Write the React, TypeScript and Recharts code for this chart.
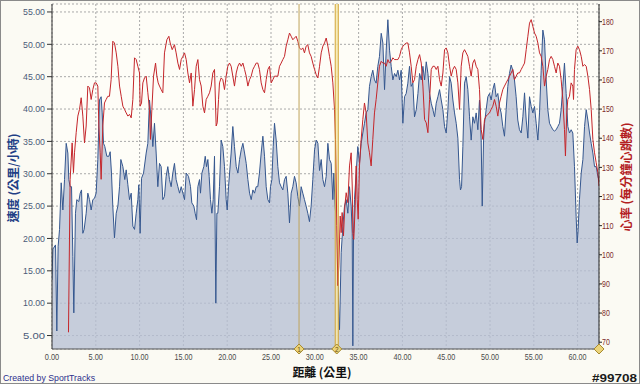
import React from 'react';
import {
  ComposedChart,
  Area,
  Line,
  XAxis,
  YAxis,
  CartesianGrid,
  ReferenceLine,
  ReferenceArea,
  ReferenceDot,
} from 'recharts';

// ---- data (distance in km) ----
const speedKm = [
  0, 0.1, 0.17, 0.4, 0.55, 0.7, 0.86, 1.05, 1.24, 1.43, 1.62, 1.81, 1.92, 2.07, 2.23, 2.38, 2.49, 2.68, 2.83, 3.06,
  3.22, 3.37, 3.52, 3.67, 3.9, 4.09, 4.28, 4.47, 4.66, 4.85, 5.04, 5.23, 5.42, 5.61, 5.73, 5.88, 6.03, 6.26, 6.49, 6.64,
  6.79, 6.94, 7.13, 7.33, 7.52, 7.71, 7.86, 8.09, 8.31, 8.47, 8.66, 8.85, 9.04, 9.23, 9.42, 9.61, 9.8, 9.91, 10.06, 10.22,
  10.45, 10.75, 10.94, 11.13, 11.32, 11.51, 11.7, 11.89, 12.08, 12.27, 12.46, 12.65, 12.84, 13.03, 13.22, 13.41, 13.6, 13.79, 13.98, 14.17,
  14.37, 14.56, 14.75, 14.94, 15.13, 15.32, 15.58, 15.81, 15.96, 16.19, 16.34, 16.5, 16.65, 16.84, 16.95, 17.11, 17.33, 17.49, 17.64, 17.79,
  17.94, 18.09, 18.25, 18.4, 18.55, 18.7, 18.82, 18.93, 19.12, 19.31, 19.5, 19.69, 19.88, 20.0, 20.15, 20.3, 20.45, 20.64, 20.83, 21.03,
  21.22, 21.41, 21.6, 21.79, 21.98, 22.17, 22.36, 22.55, 22.74, 22.93, 23.12, 23.31, 23.49, 23.68, 23.88, 24.07, 24.26, 24.45, 24.64, 24.83,
  24.94, 25.1, 25.25, 25.4, 25.59, 25.78, 25.97, 26.16, 26.35, 26.54, 26.73, 26.92, 27.11, 27.3, 27.49, 27.68, 27.87, 28.06, 28.25, 28.44,
  28.63, 28.82, 29.01, 29.2, 29.39, 29.58, 29.77, 29.97, 30.16, 30.35, 30.54, 30.73, 30.92, 31.11, 31.3, 31.49, 31.68, 31.87, 32.06, 32.17,
  32.32, 32.43, 32.63, 32.74, 32.82, 33.01, 33.2, 33.39, 33.58, 33.77, 33.96, 34.15, 34.27, 34.34, 34.42, 34.53, 34.72, 34.91, 35.1, 35.29,
  35.48, 35.67, 35.86, 36.05, 36.24, 36.43, 36.62, 36.81, 37.0, 37.19, 37.38, 37.58, 37.77, 37.96, 38.15, 38.34, 38.53, 38.72, 38.91, 39.1,
  39.29, 39.48, 39.67, 39.86, 40.05, 40.24, 40.43, 40.62, 40.81, 41.0, 41.19, 41.38, 41.58, 41.77, 41.96, 42.15, 42.34, 42.53, 42.72, 42.91,
  43.1, 43.29, 43.48, 43.67, 43.86, 44.05, 44.24, 44.43, 44.62, 44.81, 45.0, 45.19, 45.38, 45.57, 45.76, 45.95, 46.14, 46.33, 46.52, 46.63,
  46.75, 46.9, 47.09, 47.28, 47.47, 47.66, 47.85, 48.04, 48.23, 48.42, 48.61, 48.8, 48.99, 49.11, 49.26, 49.37, 49.56, 49.75, 49.94, 50.13,
  50.32, 50.51, 50.7, 50.89, 51.08, 51.27, 51.46, 51.65, 51.84, 52.03, 52.22, 52.41, 52.6, 52.79, 52.98, 53.17, 53.36, 53.56, 53.75, 53.94,
  54.13, 54.32, 54.51, 54.7, 54.89, 55.08, 55.27, 55.46, 55.65, 55.84, 56.03, 56.22, 56.41, 56.6, 56.79, 56.98, 57.17, 57.36, 57.55, 57.74,
  57.93, 58.12, 58.31, 58.5, 58.69, 58.88, 59.07, 59.26, 59.45, 59.64, 59.83, 59.95, 60.06, 60.21, 60.41, 60.6, 60.79, 60.98, 61.17, 61.36,
  61.55, 61.74, 61.93, 62.12, 62.31, 62.44,
];
const speedKmh = [
  13.6, 18.3, 18.5, 19.0, 5.7, 18.8, 21.4, 28.6, 24.4, 29.1, 34.7, 33.2, 29.1, 28.0, 28.0, 17.2, 8.5, 23.9, 26.0, 25.7,
  27.0, 27.5, 20.8, 21.4, 23.9, 27.0, 26.0, 24.4, 26.0, 26.2, 27.0, 32.2, 41.4, 41.9, 39.4, 34.7, 34.2, 32.7, 32.7, 33.4,
  30.1, 25.0, 20.1, 23.9, 25.0, 28.0, 32.2, 31.1, 29.1, 30.6, 28.3, 26.0, 27.0, 21.9, 21.4, 23.9, 26.0, 28.3, 20.8, 29.3,
  30.1, 33.2, 34.7, 41.4, 38.3, 34.2, 37.8, 33.2, 28.0, 31.6, 31.1, 26.0, 26.5, 29.6, 31.1, 29.1, 28.0, 30.1, 31.6, 29.1,
  28.0, 27.0, 28.0, 27.0, 26.0, 30.1, 29.6, 28.0, 25.5, 25.0, 23.9, 22.9, 28.0, 29.1, 27.0, 30.1, 31.1, 32.7, 31.1, 32.2,
  29.6, 26.0, 23.9, 26.0, 32.7, 10.0, 23.9, 23.9, 28.0, 35.2, 34.2, 31.1, 26.0, 24.4, 28.0, 30.6, 33.2, 37.3, 34.2, 31.1,
  30.1, 32.2, 33.7, 34.7, 33.2, 31.6, 29.1, 27.0, 26.0, 27.5, 27.0, 28.0, 28.0, 30.1, 33.2, 35.8, 32.7, 28.0, 26.0, 25.5,
  28.0, 29.1, 34.2, 37.8, 35.2, 31.1, 28.6, 28.0, 27.5, 29.1, 29.6, 27.0, 22.4, 27.0, 28.0, 29.6, 28.6, 26.5, 25.0, 28.0,
  27.0, 26.0, 25.0, 23.9, 22.6, 25.0, 29.1, 33.7, 35.2, 34.7, 30.5, 32.2, 29.1, 28.0, 29.6, 34.7, 32.2, 31.6, 26.0, 30.1,
  25.0, 22.9, 14.2, 8.0, 5.9, 17.8, 21.9, 25.0, 26.0, 23.9, 28.0, 25.0, 20.8, 3.4, 20.8, 26.0, 30.1, 34.2, 31.6, 34.7,
  36.3, 37.8, 39.4, 39.9, 43.5, 45.0, 46.0, 44.5, 44.0, 46.6, 48.1, 51.7, 50.2, 43.0, 49.1, 53.8, 49.1, 46.6, 44.5, 45.5,
  45.0, 46.0, 44.5, 46.0, 37.8, 41.9, 42.4, 44.0, 46.6, 43.5, 44.0, 38.8, 39.9, 42.4, 45.5, 44.5, 46.6, 44.5, 47.3, 45.5,
  42.4, 40.9, 39.9, 38.8, 40.9, 41.9, 43.0, 41.4, 39.9, 37.3, 36.3, 39.9, 45.0, 44.0, 41.4, 39.4, 37.8, 35.5, 29.1, 27.5,
  28.0, 34.2, 44.0, 45.0, 43.0, 38.8, 35.2, 38.8, 37.8, 39.4, 36.8, 41.4, 35.2, 25.0, 35.2, 37.8, 39.9, 41.9, 42.4, 41.4,
  43.0, 44.0, 41.9, 42.4, 40.4, 39.4, 37.3, 35.8, 39.9, 43.5, 45.5, 46.8, 46.0, 44.5, 41.9, 38.3, 36.8, 36.3, 38.8, 42.5,
  38.3, 35.5, 41.9, 40.4, 39.4, 40.4, 37.8, 35.2, 39.4, 46.0, 52.2, 50.7, 44.5, 39.9, 37.8, 37.3, 36.8, 36.6, 36.8, 37.3,
  37.8, 39.9, 43.5, 47.1, 42.4, 37.3, 36.3, 36.8, 36.3, 31.1, 23.4, 19.3, 21.4, 26.0, 30.1, 32.2, 37.3, 39.9, 38.3, 36.3,
  34.7, 33.2, 31.1, 31.1, 29.6, 29.0,
];

const hrKm = [
  1.88, 2.07, 2.3, 2.45, 2.57, 2.76, 2.95, 3.14, 3.33, 3.52, 3.71, 3.9, 4.09, 4.28, 4.47, 4.66, 4.85, 5.04, 5.23, 5.35,
  5.5, 5.61, 5.8, 5.99, 6.18, 6.37, 6.56, 6.75, 6.94, 7.13, 7.33, 7.52, 7.71, 7.9, 8.09, 8.28, 8.47, 8.66, 8.85, 9.04,
  9.23, 9.42, 9.61, 9.8, 9.99, 10.06, 10.22, 10.37, 10.56, 10.75, 10.94, 11.13, 11.24, 11.4, 11.59, 11.82, 11.97, 12.12, 12.27, 12.46,
  12.65, 12.84, 13.11, 13.34, 13.49, 13.72, 13.98, 14.17, 14.37, 14.56, 14.75, 14.94, 15.13, 15.32, 15.51, 15.7, 15.89, 16.08, 16.27, 16.46,
  16.65, 16.84, 17.03, 17.22, 17.41, 17.6, 17.79, 17.98, 18.17, 18.36, 18.55, 18.74, 18.86, 19.01, 19.12, 19.31, 19.5, 19.69, 19.88, 20.07,
  20.26, 20.45, 20.64, 20.83, 21.03, 21.22, 21.41, 21.6, 21.79, 21.98, 22.17, 22.36, 22.55, 22.74, 22.93, 23.12, 23.31, 23.49, 23.68, 23.88,
  24.07, 24.26, 24.45, 24.64, 24.83, 25.02, 25.21, 25.4, 25.59, 25.78, 25.97, 26.16, 26.35, 26.54, 26.73, 26.92, 27.11, 27.3, 27.49, 27.68,
  27.87, 28.06, 28.25, 28.44, 28.63, 28.82, 29.01, 29.2, 29.39, 29.58, 29.77, 29.97, 30.16, 30.35, 30.54, 30.73, 30.92, 31.11, 31.3, 31.49,
  31.68, 31.87, 32.06, 32.25, 32.36, 32.51, 32.63, 32.74, 32.9, 33.01, 33.12, 33.27, 33.43, 33.58, 33.77, 33.96, 34.15, 34.27, 34.34, 34.45,
  34.61, 34.72, 34.84, 34.95, 35.1, 35.29, 35.48, 35.67, 35.86, 36.05, 36.24, 36.43, 36.62, 36.81, 37.0, 37.19, 37.38, 37.58, 37.77, 37.96,
  38.15, 38.34, 38.53, 38.72, 38.91, 39.1, 39.29, 39.48, 39.67, 39.86, 40.05, 40.24, 40.43, 40.62, 40.81, 41.0, 41.19, 41.38, 41.58, 41.77,
  41.96, 42.15, 42.34, 42.53, 42.72, 42.91, 43.1, 43.29, 43.48, 43.67, 43.86, 44.05, 44.24, 44.43, 44.62, 44.81, 45.0, 45.19, 45.38, 45.57,
  45.76, 45.95, 46.14, 46.33, 46.52, 46.71, 46.9, 47.09, 47.28, 47.47, 47.66, 47.85, 48.04, 48.23, 48.42, 48.61, 48.8, 48.99, 49.18, 49.37,
  49.56, 49.75, 49.94, 50.13, 50.32, 50.51, 50.7, 50.89, 51.08, 51.27, 51.46, 51.65, 51.84, 52.03, 52.22, 52.41, 52.6, 52.79, 52.98, 53.17,
  53.36, 53.56, 53.75, 53.94, 54.13, 54.32, 54.51, 54.7, 54.89, 55.08, 55.27, 55.46, 55.65, 55.84, 56.03, 56.22, 56.41, 56.6, 56.79, 56.98,
  57.17, 57.36, 57.55, 57.74, 57.93, 58.12, 58.31, 58.5, 58.61, 58.76, 58.88, 59.07, 59.26, 59.45, 59.53, 59.64, 59.83, 60.02, 60.21, 60.41,
  60.6, 60.79, 60.98, 61.17, 61.36, 61.55, 61.74, 61.93, 62.12, 62.31, 62.44,
];
const hrBpm = [
  73.4, 125.9, 138.4, 128.2, 135.0, 141.9, 147.6, 149.9, 153.9, 147.6, 138.4, 144.2, 157.9, 157.3, 153.3, 156.7, 159.0, 159.0, 157.9, 144.2,
  135.0, 125.9, 144.2, 152.1, 153.3, 154.4, 154.4, 160.1, 173.3, 172.7, 169.3, 164.7, 157.9, 154.4, 151.0, 149.9, 148.7, 147.6, 148.2, 147.0,
  153.3, 167.6, 167.0, 164.7, 162.4, 151.0, 152.1, 159.0, 160.7, 161.3, 155.6, 149.9, 139.6, 149.9, 161.3, 165.8, 161.3, 159.0, 157.9, 156.7,
  155.6, 169.3, 173.8, 175.0, 172.7, 170.4, 172.1, 169.3, 165.8, 163.6, 167.0, 168.1, 169.3, 167.0, 162.4, 159.0, 162.4, 151.0, 156.7, 164.7,
  167.0, 160.1, 157.9, 151.0, 148.7, 153.3, 154.4, 155.6, 157.9, 162.4, 163.6, 144.2, 145.3, 153.3, 159.0, 160.7, 160.1, 156.7, 161.3, 164.7,
  165.8, 164.7, 161.3, 157.9, 162.4, 164.7, 165.8, 164.7, 165.8, 163.6, 161.3, 157.9, 160.1, 161.3, 163.6, 164.7, 165.8, 165.8, 163.6, 159.0,
  156.7, 155.6, 160.1, 163.6, 164.7, 159.0, 160.1, 161.3, 161.3, 161.3, 164.7, 165.8, 167.0, 168.1, 171.6, 173.8, 176.1, 175.0, 173.8, 174.4,
  175.0, 173.3, 171.0, 170.4, 171.0, 169.3, 171.6, 172.1, 169.3, 168.1, 165.8, 163.6, 161.8, 160.7, 164.7, 169.3, 171.6, 172.7, 174.4, 171.6,
  168.1, 164.7, 159.0, 149.9, 139.6, 110.0, 89.4, 96.2, 113.3, 107.6, 114.5, 106.5, 116.8, 121.3, 117.9, 130.5, 135.0, 123.6, 107.6, 105.3,
  116.8, 130.5, 119.0, 112.2, 130.5, 139.6, 146.4, 152.1, 148.7, 138.4, 135.0, 130.5, 139.6, 148.7, 153.3, 159.0, 164.7, 166.4, 165.8, 165.8,
  164.7, 167.0, 165.8, 166.4, 167.6, 167.0, 167.0, 167.0, 168.1, 170.4, 171.6, 172.1, 172.7, 172.7, 169.3, 164.7, 159.0, 160.1, 164.7, 167.0,
  168.7, 165.8, 157.9, 146.4, 145.3, 141.9, 153.3, 163.6, 164.7, 164.7, 163.6, 164.7, 160.1, 157.9, 162.4, 170.4, 171.0, 169.3, 164.7, 161.3,
  163.6, 164.7, 163.6, 159.0, 149.9, 164.7, 169.3, 170.4, 169.3, 168.1, 164.7, 161.3, 165.8, 167.0, 164.7, 163.6, 156.7, 143.0, 139.6, 146.4,
  147.6, 148.2, 148.7, 149.9, 151.0, 153.3, 151.0, 147.6, 152.1, 154.4, 156.7, 157.9, 159.0, 160.1, 161.3, 162.4, 163.6, 160.1, 161.3, 162.4,
  162.4, 163.6, 164.7, 165.8, 170.4, 175.0, 179.5, 180.7, 178.4, 176.1, 175.0, 172.7, 169.3, 168.1, 164.7, 157.9, 161.3, 163.6, 167.0, 168.1,
  167.0, 164.7, 162.4, 165.8, 164.7, 160.1, 153.3, 143.0, 133.9, 148.7, 153.3, 154.4, 159.0, 157.9, 153.3, 163.6, 170.4, 171.6, 170.4, 168.1,
  164.7, 165.3, 164.7, 161.3, 156.7, 149.9, 139.6, 135.0, 131.6, 128.2, 123.6,
];

const distanceTicks = [0, 5, 10, 15, 20, 25, 30, 35, 40, 45, 50, 55, 60];
const speedTicks = [5, 10, 15, 20, 25, 30, 35, 40, 45, 50, 55];
const hrTicks = [70, 80, 90, 100, 110, 120, 130, 140, 150, 160, 170, 180];
const lapMarkerKm = [28.2];
const pauseStartKm = [32.33];
const pauseEndKm = [32.68];
const markerLabels = ['1', '2'];

const speedData = speedKm.map((km, i) => ({ km, speed: speedKmh[i] }));
const hrData = hrKm.map((km, i) => ({ km, hr: hrBpm[i] }));

const X_DOMAIN: [number, number] = [0, 62.44];
const SPEED_DOMAIN: [number, number] = [2.92, 56.23];
const HR_DOMAIN: [number, number] = [67.67, 186.07];

const TICK_FONT = '"Liberation Sans", Arial, sans-serif';
const CJK_FONT = '"Noto Sans CJK TC", "Noto Sans CJK SC", sans-serif';

const LeftTick = (props: any) => {
  const { x, y, payload } = props;
  return (
    <text x={x} y={y} dy={3.2} textAnchor="end" fontSize={9} fill="#4b5a78" fontFamily={TICK_FONT}
      textLength={22} lengthAdjust="spacingAndGlyphs">
      {Number(payload.value).toFixed(2)}
    </text>
  );
};

const RightTick = (props: any) => {
  const { x, y, payload } = props;
  const s = String(payload.value);
  return (
    <text x={x} y={y} dy={3.2} textAnchor="start" fontSize={9} fill="#7d2b2b" fontFamily={TICK_FONT}
      textLength={s.length * 3.9} lengthAdjust="spacingAndGlyphs">
      {s}
    </text>
  );
};

const BottomTick = (props: any) => {
  const { x, y, payload } = props;
  const s = Number(payload.value).toFixed(2);
  return (
    <text x={x} y={y} dy={7} textAnchor="middle" fontSize={9} fill="#4a4a4a" fontFamily={TICK_FONT}
      textLength={s.length * 3.6} lengthAdjust="spacingAndGlyphs">
      {s}
    </text>
  );
};

const markerDiamond = (label: string) => (props: any) => {
  const { cx, cy } = props;
  return (
    <g>
      <path d={`M${cx},${cy - 5} L${cx + 5},${cy} L${cx},${cy + 5} L${cx - 5},${cy} Z`} fill="#ecd47a" stroke="#a78a30" strokeWidth={1} />
      <text x={cx} y={cy + 2.5} textAnchor="middle" fontSize={6.5} fill="#6a5010" fontFamily={TICK_FONT}>{label}</text>
    </g>
  );
};

export default function App() {
  return (
    <div style={{ position: 'absolute', left: 0, top: 0, width: 640, height: 384, background: '#fbfaf3', boxShadow: 'inset 0 0 0 1px #8a8a8a' }}>
      <ComposedChart width={640} height={384} margin={{ top: 4, right: 0, bottom: 0, left: 0 }}>
        <CartesianGrid yAxisId="speed" stroke="#a9a9a9" strokeDasharray="2 2" fill="#fefdf7" fillOpacity={1} />
        <XAxis dataKey="km" type="number" domain={X_DOMAIN} ticks={distanceTicks} interval={0} allowDataOverflow
          height={35} tickSize={2} tickMargin={2} tickLine={false} stroke="#555" tick={<BottomTick />} />
        <YAxis yAxisId="speed" orientation="left" type="number" domain={SPEED_DOMAIN} ticks={speedTicks} interval={0}
          allowDataOverflow width={52} tickSize={5} tickMargin={2} stroke="#333" tick={<LeftTick />} />
        <YAxis yAxisId="hr" orientation="right" type="number" domain={HR_DOMAIN} ticks={hrTicks} interval={0}
          allowDataOverflow width={41} tickSize={3} tickMargin={0} stroke="#222" tick={<RightTick />} />
        <Line yAxisId="hr" data={hrData} dataKey="hr" type="linear" stroke="#c4262b" strokeWidth={1} dot={false}
          isAnimationActive={false} />
        <Area yAxisId="speed" data={speedData} dataKey="speed" type="linear" stroke="#35578f" strokeWidth={1}
          fill="#b6bfd4" fillOpacity={0.78} dot={false} isAnimationActive={false} />
        <ReferenceArea yAxisId="speed" x1={pauseStartKm[0]} x2={pauseEndKm[0]} y1={SPEED_DOMAIN[0]} y2={SPEED_DOMAIN[1]}
          fill="#f6e9ae" fillOpacity={0.85} stroke="none" ifOverflow="visible" />
        <ReferenceLine yAxisId="speed" x={lapMarkerKm[0]} stroke="#bfa35a" strokeWidth={1} />
        <ReferenceLine yAxisId="speed" x={pauseStartKm[0]} stroke="#d2a53a" strokeWidth={1} />
        <ReferenceLine yAxisId="speed" x={pauseEndKm[0]} stroke="#d2a53a" strokeWidth={1} />
        <ReferenceDot yAxisId="speed" x={lapMarkerKm[0]} y={SPEED_DOMAIN[0]} ifOverflow="visible" shape={markerDiamond(markerLabels[0])} />
        <ReferenceDot yAxisId="speed" x={(pauseStartKm[0] + pauseEndKm[0]) / 2} y={SPEED_DOMAIN[0]} ifOverflow="visible" shape={markerDiamond(markerLabels[1])} />
        <ReferenceDot yAxisId="speed" x={X_DOMAIN[1]} y={SPEED_DOMAIN[0]} ifOverflow="visible" shape={markerDiamond('')} />
      </ComposedChart>
      <svg width={640} height={384} style={{ position: 'absolute', left: 0, top: 0, pointerEvents: 'none' }}>
        <text transform="translate(12,178) rotate(-90)" textAnchor="middle" dominantBaseline="central" fontSize={12}
          fontWeight="bold" fill="#1f3f86" fontFamily={CJK_FONT} textLength={89} lengthAdjust="spacingAndGlyphs">
          速度 (公里/小時)
        </text>
        <text transform="translate(625,177) rotate(-90)" textAnchor="middle" dominantBaseline="central" fontSize={12}
          fontWeight="bold" fill="#b3201f" fontFamily={CJK_FONT} textLength={109} lengthAdjust="spacingAndGlyphs">
          心率 (每分鐘心跳數)
        </text>
        <text x={322} y={371} textAnchor="middle" dominantBaseline="central" fontSize={12} fontWeight="bold" fill="#111"
          fontFamily={CJK_FONT} textLength={59} lengthAdjust="spacingAndGlyphs">
          距離 (公里)
        </text>
        <text x={3} y={381} fontSize={9} fill="#2b2f8c" fontFamily={TICK_FONT} textLength={92} lengthAdjust="spacingAndGlyphs">
          Created by SportTracks
        </text>
        <text x={637} y={382} textAnchor="end" fontSize={11} fontWeight="bold" fill="#1a1a1a" fontFamily={TICK_FONT}
          textLength={45} lengthAdjust="spacingAndGlyphs">
          #99708
        </text>
      </svg>
    </div>
  );
}
